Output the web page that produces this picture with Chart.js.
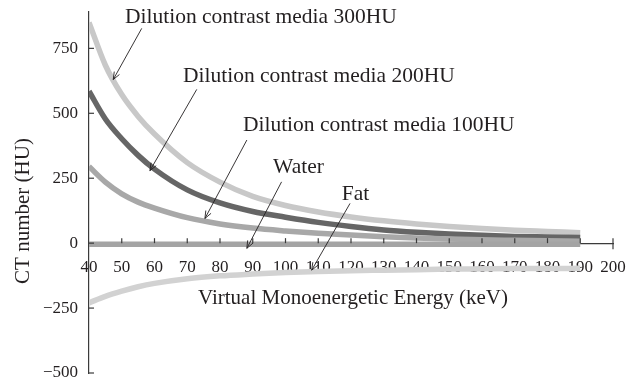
<!DOCTYPE html>
<html>
<head>
<meta charset="utf-8">
<script src="https://cdn.jsdelivr.net/npm/chart.js@4/dist/chart.umd.min.js"></script>
<style>
  html, body { margin: 0; padding: 0; background: #ffffff; }
  #wrap { width: 640px; height: 378px; }
</style>
</head>
<body>
<div id="wrap"><canvas id="c" width="640" height="378"></canvas></div>
<script>
// Virtual monoenergetic energy levels (keV)
const energyKeV = [40, 45, 50, 55, 60, 70, 80, 90, 100, 110, 120, 130, 140, 150, 160, 170, 180, 190];

// CT numbers (HU) per material
const media300 = [850, 685, 572, 488, 420, 310, 235, 180, 145, 120, 101, 86, 74, 64, 56, 50, 45, 40];
const media200 = [585, 478, 402, 338, 285, 205, 155, 122, 100, 80, 64, 51, 42, 35, 30, 26, 24, 22];
const media100 = [295, 235, 190, 158, 135, 98, 74, 58, 47, 38, 31, 25, 20, 16, 13, 11, 9, 7];
const water    = [-4, -4, -4, -4, -4, -4, -4, -4, -4, -4, -4, -4, -4, -4, -4, -4, -4, -4];
const fat      = [-230, -205, -185, -168, -155, -137, -126, -119, -113, -109, -106, -104, -102, -100, -99, -98, -98, -97];

// Axis ticks
const xTickValues = [40, 50, 60, 70, 80, 90, 100, 110, 120, 130, 140, 150, 160, 170, 180, 190, 200];
const xTickLabels = ['40', '50', '60', '70', '80', '90', '100', '110', '120', '130', '140', '150', '160', '170', '180', '190', '200'];
const yTickValues = [-500, -250, 0, 250, 500, 750];
const yTickLabels = ['\u2212500', '\u2212250', '0', '250', '500', '750'];

const serif = "'Liberation Serif', 'DejaVu Serif', serif";
const ink = '#231f20';
const axisInk = '#3b3b3b';

// Callout labels: text anchor and arrow (tail -> head) in data units (keV, HU)
const callouts = [
  { text: 'Dilution contrast media 300HU', at: [51.0, 871], tail: [56.1, 827], head: [47.4, 630] },
  { text: 'Dilution contrast media 200HU', at: [68.7, 644], tail: [72.9, 592], head: [58.6, 279] },
  { text: 'Dilution contrast media 100HU', at: [87.0, 453], tail: [88.2, 397], head: [75.4, 95] },
  { text: 'Water', at: [96.2, 293], tail: [98.8, 236], head: [88.2, -20] },
  { text: 'Fat', at: [117.2, 187], tail: [119.7, 153], head: [108.0, -104] }
];

function points(values) {
  return energyKeV.map((e, i) => ({ x: e, y: values[i] }));
}

function series(label, values, color) {
  return {
    label,
    data: points(values),
    borderColor: color,
    borderWidth: 5.5,
    borderCapStyle: 'butt',
    pointRadius: 0,
    cubicInterpolationMode: 'monotone',
    fill: false
  };
}

function drawArrow(ctx, x1, y1, x2, y2) {
  ctx.beginPath();
  ctx.moveTo(x1, y1);
  ctx.lineTo(x2, y2);
  ctx.stroke();
  const ang = Math.atan2(y2 - y1, x2 - x1);
  const len = 8, spread = 0.38;
  ctx.beginPath();
  ctx.moveTo(x2 - len * Math.cos(ang - spread), y2 - len * Math.sin(ang - spread));
  ctx.lineTo(x2, y2);
  ctx.lineTo(x2 - len * Math.cos(ang + spread), y2 - len * Math.sin(ang + spread));
  ctx.stroke();
}

const decorations = {
  id: 'decorations',
  afterDraw(chart) {
    const { ctx, scales: { x, y } } = chart;
    const y0 = y.getPixelForValue(0);
    ctx.save();
    ctx.strokeStyle = axisInk;
    ctx.lineWidth = 1.2;

    // inward tick marks on the vertical axis
    yTickValues.forEach(v => {
      const py = y.getPixelForValue(v);
      ctx.beginPath();
      ctx.moveTo(x.left, py);
      ctx.lineTo(x.left + 5, py);
      ctx.stroke();
    });

    // upward tick marks on the energy axis, closing bar at the end
    xTickValues.forEach((v, i) => {
      if (i === 0) return;
      const px = x.getPixelForValue(v);
      const last = i === xTickValues.length - 1;
      ctx.beginPath();
      ctx.moveTo(px, y0 - 5);
      ctx.lineTo(px, last ? y0 + 6 : y0);
      ctx.stroke();
    });

    // axis titles
    ctx.fillStyle = ink;
    ctx.font = '21px ' + serif;
    ctx.textAlign = 'center';
    ctx.textBaseline = 'middle';
    ctx.fillText('Virtual Monoenergetic Energy (keV)', 353, 298);
    ctx.save();
    ctx.translate(23, 211);
    ctx.rotate(-Math.PI / 2);
    ctx.fillText('CT number (HU)', 0, 0);
    ctx.restore();

    // callouts
    ctx.font = '21.5px ' + serif;
    ctx.textAlign = 'left';
    ctx.strokeStyle = ink;
    ctx.lineWidth = 0.9;
    callouts.forEach(c => {
      ctx.fillText(c.text, x.getPixelForValue(c.at[0]), y.getPixelForValue(c.at[1]));
      drawArrow(ctx,
        x.getPixelForValue(c.tail[0]), y.getPixelForValue(c.tail[1]),
        x.getPixelForValue(c.head[0]), y.getPixelForValue(c.head[1]));
    });
    ctx.restore();
  }
};

new Chart(document.getElementById('c'), {
  type: 'line',
  data: {
    datasets: [
      series('Fat', fat, '#d2d2d2'),
      series('Water', water, '#a4a4a4'),
      series('Dilution contrast media 100HU', media100, '#a8a8a8'),
      series('Dilution contrast media 200HU', media200, '#666666'),
      series('Dilution contrast media 300HU', media300, '#c8c8c8')
    ]
  },
  options: {
    responsive: false,
    animation: false,
    devicePixelRatio: 1,
    layout: { padding: { left: 0, top: 12, right: 27, bottom: 5 } },
    plugins: { legend: { display: false }, tooltip: { enabled: false } },
    scales: {
      x: {
        type: 'linear',
        position: { y: 0 },
        min: 40,
        max: 200,
        z: 1,
        afterFit: s => { s.height = 0; s.paddingLeft = 0; s.paddingRight = 0; },
        afterBuildTicks: s => { s.ticks = xTickValues.map(v => ({ value: v })); },
        grid: { display: false, drawTicks: false },
        border: { display: true, color: axisInk, width: 1.2 },
        ticks: {
          autoSkip: false,
          maxRotation: 0,
          padding: 14,
          color: ink,
          font: { family: serif, size: 17 },
          callback: (v, i) => xTickLabels[i]
        }
      },
      y: {
        type: 'linear',
        min: -500,
        max: 890,
        z: 1,
        afterFit: s => { s.width = 89; s.paddingTop = 0; s.paddingBottom = 0; },
        afterBuildTicks: s => { s.ticks = yTickValues.map(v => ({ value: v })); },
        grid: { display: false, drawTicks: false },
        border: { display: true, color: axisInk, width: 1.2 },
        ticks: {
          padding: 11,
          color: ink,
          font: { family: serif, size: 17 },
          callback: (v, i) => yTickLabels[i]
        }
      }
    }
  },
  plugins: [decorations]
});
</script>
</body>
</html>
